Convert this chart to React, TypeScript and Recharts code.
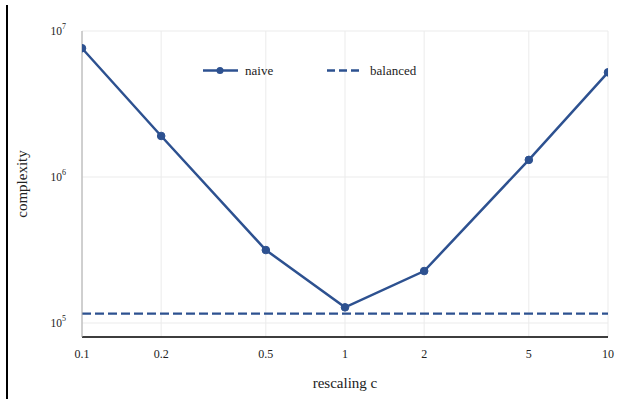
import React from "react";
import { ComposedChart, Line, XAxis, YAxis, CartesianGrid, Label } from "recharts";

const scalings = [0.1, 0.2, 0.5, 1, 2, 5, 10];
const naive = [7.62e6, 1.91e6, 3.16e5, 1.28e5, 2.27e5, 1.31e6, 5.21e6];
const balanced = [1.16e5, 1.16e5, 1.16e5, 1.16e5, 1.16e5, 1.16e5, 1.16e5];
const xTicks = [0.1, 0.2, 0.5, 1, 2, 5, 10];
const yTicks = [1e5, 1e6, 1e7];

const data = scalings.map((c, i) => ({ c, naive: naive[i], balanced: balanced[i] }));

const COLOR = "#2d5190";
const FONT = "Liberation Serif, Times New Roman, DejaVu Serif, serif";
const textStyle = { fontFamily: FONT, fill: "#222" };

const YTick = (props: any) => {
  const { x, y, payload } = props;
  const exp = Math.round(Math.log10(payload.value));
  return (
    <text x={x - 8} y={y + 3.5} textAnchor="end" style={{ ...textStyle, fontSize: 11.5 }}>
      <tspan>10</tspan>
      <tspan dy={-6} style={{ fontSize: 8 }}>{exp}</tspan>
    </text>
  );
};

const XTick = (props: any) => {
  const { x, y, payload } = props;
  return (
    <text x={x} y={y + 13} textAnchor="middle" style={{ ...textStyle, fontSize: 12 }}>
      {String(payload.value)}
    </text>
  );
};

const LegendOverlay = () => (
  <svg width={240} height={20} style={{ position: "absolute", left: 200, top: 60 }}>
    <line x1={3} y1={10.5} x2={38} y2={10.5} stroke={COLOR} strokeWidth={2.5} />
    <circle cx={20} cy={10.5} r={3.5} fill={COLOR} />
    <text x={45} y={14.5} style={{ ...textStyle, fontSize: 13 }}>naive</text>
    <line x1={127} y1={10.5} x2={159} y2={10.5} stroke={COLOR} strokeWidth={2.5} strokeDasharray="8 4" />
    <text x={170} y={14.5} style={{ ...textStyle, fontSize: 13 }}>balanced</text>
  </svg>
);

export default function App() {
  return (
    <div style={{ position: "absolute", left: 0, top: 0, width: 627, height: 399, background: "#fff" }}>
      <div style={{ position: "absolute", left: 6, top: 5, width: 2, height: 394, background: "#000" }} />
      <div style={{ position: "absolute", left: 0, top: 0 }}>
        <ComposedChart width={627} height={399} data={data} margin={{ top: 31, right: 19, left: 0, bottom: 0 }}>
          <CartesianGrid stroke="#ebebeb" strokeWidth={1} />
          <XAxis
            dataKey="c"
            type="number"
            scale="log"
            domain={[0.1, 10]}
            ticks={xTicks}
            height={62}
            tick={<XTick />}
            tickLine={false}
            axisLine={{ stroke: "#000", strokeWidth: 1.5 }}
            allowDataOverflow
          >
            <Label value="rescaling c" position="insideBottom" offset={11} style={{ ...textStyle, fontSize: 15 }} />
          </XAxis>
          <YAxis
            type="number"
            scale="log"
            domain={[80200, 1e7]}
            ticks={yTicks}
            width={82}
            tick={<YTick />}
            tickLine={false}
            axisLine={{ stroke: "#aaa", strokeWidth: 1 }}
            allowDataOverflow
          >
            <Label value="complexity" angle={-90} position="insideLeft" offset={22} style={{ ...textStyle, fontSize: 15, textAnchor: "middle" }} />
          </YAxis>
          <Line dataKey="naive" stroke={COLOR} strokeWidth={2.5} dot={{ r: 3.8, fill: COLOR, stroke: COLOR, strokeWidth: 1 }} isAnimationActive={false} />
          <Line dataKey="balanced" stroke={COLOR} strokeWidth={2.2} strokeDasharray="9 4" dot={false} isAnimationActive={false} />
        </ComposedChart>
      </div>
      <LegendOverlay />
    </div>
  );
}
